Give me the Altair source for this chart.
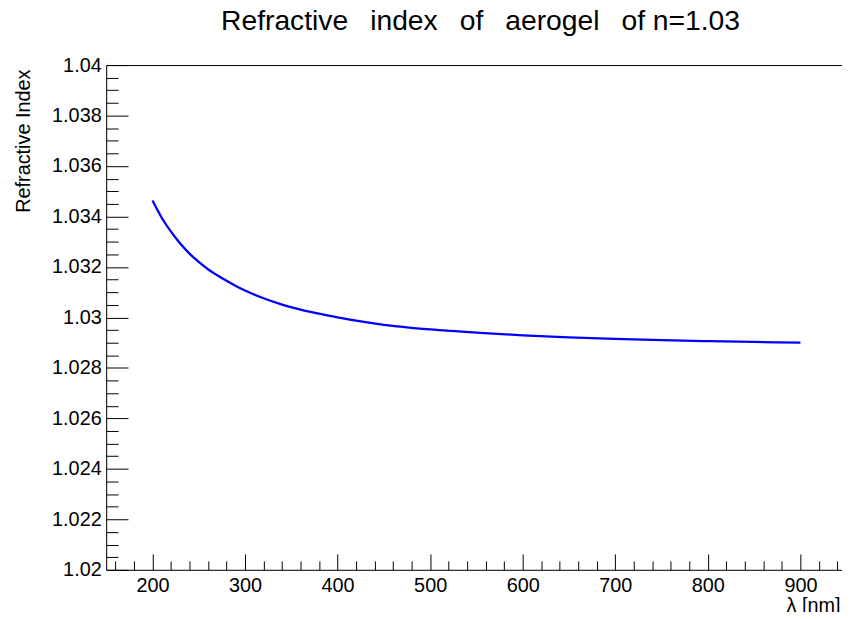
import altair as alt
import pandas as pd

# Data
wavelength = [200, 210, 220, 230, 240, 250, 260, 270, 280, 290, 300, 320, 340,
              360, 380, 400, 425, 450, 475, 500, 550, 600, 650, 700, 750, 800,
              850, 900]
refr_index = [1.03463, 1.03395, 1.03340, 1.03293, 1.03253, 1.03220, 1.03191,
              1.03167, 1.03145, 1.03125, 1.03107, 1.03076, 1.03051, 1.03031,
              1.03015, 1.03000, 1.02984, 1.02971, 1.02961, 1.02953, 1.02940,
              1.02929, 1.02921, 1.02915, 1.02910, 1.02906, 1.02903, 1.02900]

x_major = [200, 300, 400, 500, 600, 700, 800, 900]
x_minor = [v for v in range(160, 950, 20) if v % 100 != 0]
y_major = [round(1.020 + 0.002 * i, 3) for i in range(11)]
y_minor = [round(1.020 + 0.0005 * i, 4) for i in range(41) if i % 4 != 0]

TITLE = "Refractive\u2002\u00a0index\u2002\u00a0of\u2002\u00a0aerogel\u2002\u00a0of n=1.03"

df = pd.DataFrame({"lam": wavelength, "n": refr_index})

W, H = 742, 509
X_DOMAIN = [150, 944.9]
Y_DOMAIN = [1.02, 1.04]
FONT = "Liberation Sans"

xs = alt.Scale(domain=X_DOMAIN, nice=False, zero=False)
ys = alt.Scale(domain=Y_DOMAIN, nice=False, zero=False)

line = alt.Chart(df).mark_line(color="#0000ff", strokeWidth=2.3,
                               interpolate="monotone").encode(
    x=alt.X("lam:Q", scale=xs, axis=alt.Axis(
        orient="bottom", values=x_major, ticks=False, tickSize=0, grid=False,
        domain=True, domainColor="black", domainWidth=1,
        labelFont=FONT, labelFontSize=20, labelColor="black", labelPadding=6,
        format="d", title="λ [nm]", titleFont=FONT, titleFontSize=20,
        titleFontWeight="normal", titleColor="black", titleX=W - 2, titleY=42,
        titleAlign="right", titleBaseline="alphabetic")),
    y=alt.Y("n:Q", scale=ys, axis=alt.Axis(
        orient="left", values=y_major, ticks=False, tickSize=0, grid=False,
        domain=True, domainColor="black", domainWidth=1,
        labelFont=FONT, labelFontSize=20, labelColor="black", labelPadding=5,
        labelExpr="format(datum.value, '.3~f')",
        title="Refractive Index", titleFont=FONT, titleFontSize=20,
        titleFontWeight="normal", titleColor="black", titleAngle=270,
        titleX=-77, titleY=4, titleAlign="right", titleBaseline="alphabetic")),
)

def tick_layer(xvals, xsize, yvals, ysize):
    return alt.Chart(df).mark_point(opacity=0).encode(
        x=alt.X("lam:Q", scale=xs, axis=alt.Axis(
            orient="top", offset=-H, values=xvals, ticks=True, tickSize=xsize,
            tickColor="black", tickWidth=1, labels=False, domain=False,
            grid=False, title=None)),
        y=alt.Y("n:Q", scale=ys, axis=alt.Axis(
            orient="right", offset=-W, values=yvals, ticks=True, tickSize=ysize,
            tickColor="black", tickWidth=1, labels=False, domain=False,
            grid=False, title=None)),
    )

major = tick_layer(x_major, 16, y_major, 22)
minor = tick_layer(x_minor, 9, y_minor, 12)

top_border = alt.Chart(df).mark_point(opacity=0).encode(
    x=alt.X("lam:Q", scale=xs, axis=alt.Axis(
        orient="top", ticks=False, labels=False, domain=True,
        domainColor="black", domainWidth=1, grid=False, title=None)),
    y=alt.Y("n:Q", scale=ys, axis=None),
)

title = alt.Chart(pd.DataFrame({"t": [TITLE]})).mark_text(
    font=FONT, fontSize=28.5, color="black", align="center",
    baseline="alphabetic").encode(
    text="t:N", x=alt.value(377.5), y=alt.value(-35))

chart = alt.layer(line, major, minor, top_border, title).resolve_axis(
    x="independent", y="independent"
).properties(
    width=W, height=H,
    autosize=alt.AutoSizeParams(type="none"),
    padding={"left": 99, "top": 55, "right": 0, "bottom": 40},
).configure_view(stroke=None).configure(background="white")

chart.save("out.html", embed_options={"renderer": "svg", "actions": False})
